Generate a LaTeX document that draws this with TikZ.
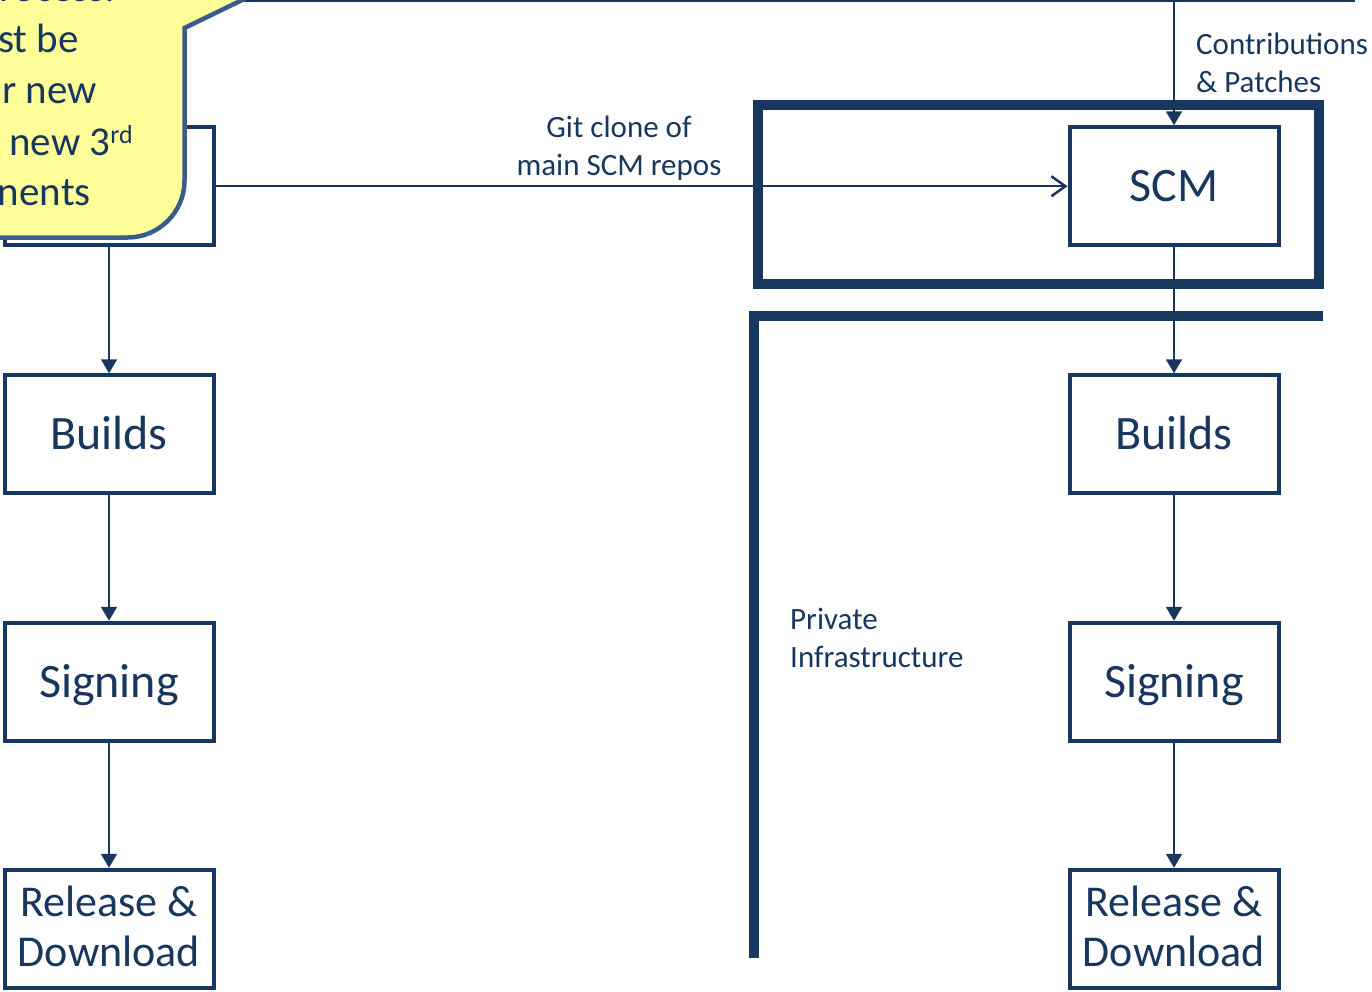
\documentclass[tikz,border=0pt]{standalone}
\usepackage{fontspec}
\setmainfont{Carlito}
\usetikzlibrary{arrows.meta}
\definecolor{navy}{HTML}{17375E}
\definecolor{calloutblue}{HTML}{385D8A}
\definecolor{calloutfill}{HTML}{FFFF99}
\begin{document}
\begin{tikzpicture}[x=1pt,y=-1pt,
  stepbox/.style={draw=navy, line width=4pt, minimum width=209pt, minimum height=118pt,
    inner sep=0pt, text=navy, font=\fontsize{48}{56}\selectfont, text height=40pt, text depth=9pt},
  relbox/.style={draw=navy, line width=4pt, minimum width=209pt, minimum height=118pt,
    inner sep=0pt, text=navy, font=\fontsize{44}{50}\selectfont},
  flow/.style={draw=navy, line width=2pt, -{Triangle[width=16pt,length=14pt]}},
  clonearrow/.style={draw=navy, line width=2pt, -{Straight Barb[length=14pt,width=20pt,line width=2.5pt]}},
  plainline/.style={draw=navy, line width=2pt},
  frame/.style={draw=navy, line width=10pt, miter limit=10},
  lbl/.style={text=navy, font=\fontsize{31}{38}\selectfont, inner sep=0pt},
  callouttext/.style={text=navy, font=\fontsize{41}{51}\selectfont, inner sep=0pt, anchor=base east}
]
\useasboundingbox (0,0) rectangle (1372,991);

% thick infrastructure frames
\draw[frame] (757.5,105) rectangle (1318.5,283.5);
\draw[frame] (754,958) -- (754,316) -- (1323,316);

% left column
\node[stepbox] (lscm) at (109,186.25) {};
\node[stepbox] (lbuild) at (109,434.25) {Builds};
\node[stepbox] (lsign) at (109,681.75) {Signing};
\node[relbox] (lrel) at (109,928.75) {\raisebox{-3pt}[\height][\depth]{\begin{tabular}{@{}c@{}}Release \&\\Download\end{tabular}}};

% right column
\node[stepbox] (rscm) at (1174,186.25) {SCM};
\node[stepbox] (rbuild) at (1174,434.25) {Builds};
\node[stepbox] (rsign) at (1174,681.75) {Signing};
\node[relbox] (rrel) at (1174,928.75) {\raisebox{-3pt}[\height][\depth]{\begin{tabular}{@{}c@{}}Release \&\\Download\end{tabular}}};

% connectors
\draw[flow] (lscm) -- (lbuild);
\draw[flow] (lbuild) -- (lsign);
\draw[flow] (lsign) -- (lrel);
\draw[flow] (rscm) -- (rbuild);
\draw[flow] (rbuild) -- (rsign);
\draw[flow] (rsign) -- (rrel);
\draw[clonearrow] (lscm) -- (rscm);

\coordinate (topL) at (242,1);
\coordinate (topJ) at (1174,1);
\coordinate (topR) at (1355,1);
\draw[plainline] (topL) -- (topR);
\draw[flow] (topJ) -- (rscm);

% labels
\node[lbl, anchor=base] (clonelbl) at (619,137)
  {\begin{tabular}[t]{@{}c@{}}Git clone of\\main SCM repos\end{tabular}};
\node[lbl, anchor=base west] (contriblbl) at (1196,54)
  {\begin{tabular}[t]{@{}l@{}}Contributions\\\& Patches\end{tabular}};
\node[lbl, anchor=base west] (privlbl) at (790,629)
  {\begin{tabular}[t]{@{}l@{}}Private\\Infrastructure\end{tabular}};

% callout
\draw[calloutblue, line width=4.5pt, fill=calloutfill]
  (-30,237.5) -- (-30,-30) -- (304,-30) -- (184.5,28) -- (184.5,180.5)
  .. controls (184.5,212) and (159,237.5) .. (127.5,237.5) -- cycle;
\node[callouttext] (c0) at (116,1) {rocess:};
\node[callouttext] (c1) at (79,52) {st be};
\node[callouttext] (c2) at (97,103) {r new};
\node[callouttext] (c3) at (133,155) {new 3\raisebox{12pt}{\fontsize{26}{26}\selectfont rd}};
\node[callouttext] (c4) at (91,205) {nents};
\end{tikzpicture}
\end{document}
